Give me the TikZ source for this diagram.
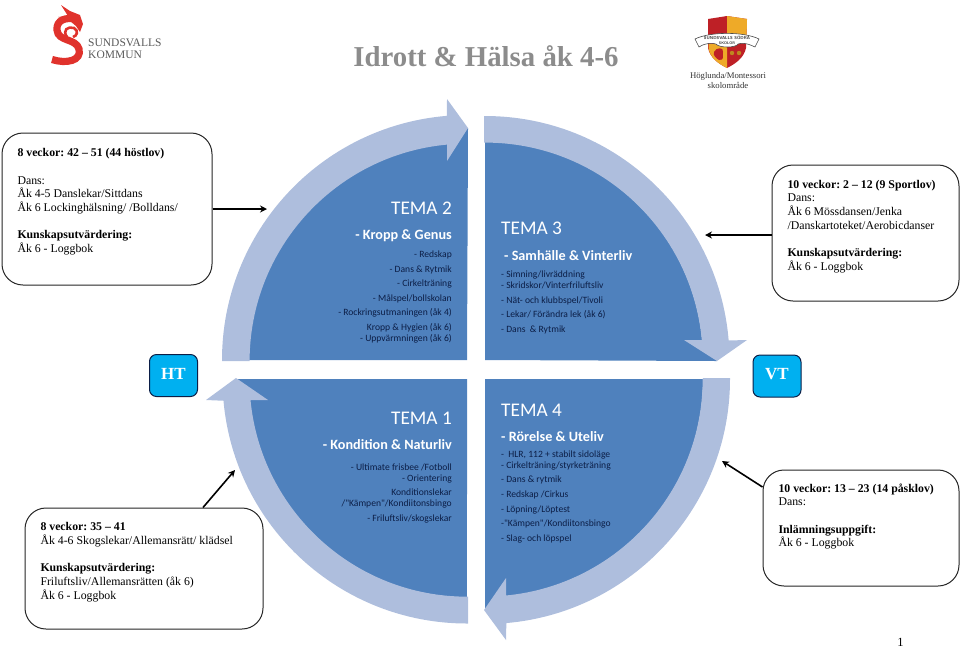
\documentclass[tikz,border=0pt]{standalone}
\usepackage{fontspec}
\setmainfont{Liberation Serif}
\newfontfamily\carl{Carlito}
\usetikzlibrary{arrows.meta}
\frenchspacing
\definecolor{quad}{RGB}{79,129,189}
\definecolor{ring}{RGB}{174,190,221}
\definecolor{sky}{RGB}{0,176,240}
\definecolor{navy}{RGB}{12,30,70}
\definecolor{titlegray}{RGB}{140,140,140}
\definecolor{logored}{RGB}{224,50,44}
\definecolor{shieldred}{RGB}{190,32,38}
\definecolor{shieldgold}{RGB}{238,170,40}
\tikzset{
  infobox/.style={draw=black!85,line width=1pt,rounded corners=21pt,fill=white,inner ysep=0pt,inner xsep=15.5pt,anchor=center},
  season/.style={draw=navy,line width=1pt,rounded corners=7pt,fill=sky,text=white,font=\fontsize{17}{20}\selectfont\bfseries,minimum width=48pt,minimum height=42pt,inner sep=0pt},
  pointer/.style={line width=1.6pt,black,-{Stealth[length=7pt,width=7pt]}},
  quadrant/.style={fill=quad,draw=none},
  ringarrow/.style={fill=ring,draw=none},
  tematitle/.style={text=white,font=\carl\fontsize{19.3}{22}\selectfont,inner sep=0pt},
  temasub/.style={text=white,font=\carl\bfseries\fontsize{14.2}{16}\selectfont,inner sep=0pt},
  temalist/.style={text=navy,font=\carl\fontsize{9.6}{10.7}\selectfont,inner sep=0pt},
}
\newcommand{\boxtxt}[4]{\parbox[c][#1pt][t]{#2pt}{\raggedright\vspace{#3pt}\fontsize{11.8}{13.7}\selectfont #4}}
\begin{document}
\begin{tikzpicture}[x=1pt,y=-1pt]
\useasboundingbox (0,0) rectangle (960,649);

% quadrants
\fill[quadrant] (467,360) -- (249,360) arc (180:264.7:218) -- (468,128) -- cycle;
\fill[quadrant] (485,360) -- (485,142) arc (270:354.7:218) -- (717,361) -- cycle;
\fill[quadrant] (467,379) -- (237,379) -- (250,400) arc (174.5:90:218) -- cycle;
\fill[quadrant] (485,379) -- (703,379) arc (0:84.5:218) -- (485,610) -- cycle;

% ring arrows
\fill[ringarrow] (222,361) -- (222,360) arc (180:265.3:245) -- (447,99) -- (468,128) -- (447,161) -- (447,144.6) arc (264.7:180:217.5) -- (249,361) -- cycle;
\fill[ringarrow] (484,116) -- (485,116) arc (270:355.3:244.5) -- (747,340) -- (717,361) -- (684,340) -- (701.8,340) arc (354.7:270:217.5) -- (484,142.5) -- cycle;
\fill[ringarrow] (468,623.5) -- (467,623.5) arc (90:174.9:244.5) -- (206,400) -- (236,378) -- (268,400) -- (250.5,400) arc (174.5:90:217.5) -- (468,596.5) -- cycle;
\fill[ringarrow] (730,378) -- (730,379) arc (0:85:245) -- (506,640) -- (484,610) -- (506,578) -- (506,595.5) arc (84.5:0:217.5) -- (703,378) -- cycle;

% quadrant texts
\node[tematitle,anchor=east] (t2) at (452,208.5) {TEMA 2};
\node[temasub,anchor=east] (s2) at (452,236) {- Kropp \& Genus};
\node[temalist,anchor=north east,align=right] (l2) at (452,250.7) {- Redskap\\[3.9pt]- Dans \& Rytmik\\[3.9pt]- Cirkelträning\\[3.9pt]- Målspel/bollskolan\\[3.9pt]- Rockringsutmaningen (åk 4)\\[3.9pt]Kropp \& Hygien (åk 6)\\- Uppvärmningen (åk 6)};

\node[tematitle,anchor=west] (t3) at (501,228.5) {TEMA 3};
\node[temasub,anchor=west] (s3) at (504,256) {- Samhälle \& Vinterliv};
\node[temalist,anchor=north west,align=left] (l3) at (501,271) {- Simning/livräddning\\- Skridskor/Vinterfriluftsliv\\[3.9pt]- Nät- och klubbspel/Tivoli\\[3.9pt]- Lekar/ Förändra lek (åk 6)\\[3.9pt]- Dans \ \& Rytmik};

\node[tematitle,anchor=east] (t1) at (452,418.5) {TEMA 1};
\node[temasub,anchor=east] (s1) at (452,445) {- Kondition \& Naturliv};
\node[temalist,anchor=north east,align=right] (l1) at (452,463.7) {- Ultimate frisbee /Fotboll\\- Orientering\\[3.9pt]Konditionslekar\\/"Kämpen"/Kondiitonsbingo\\[3.9pt]- Friluftsliv/skogslekar};

\node[tematitle,anchor=west] (t4) at (501,410.5) {TEMA 4};
\node[temasub,anchor=west] (s4) at (501,437) {- Rörelse \& Uteliv};
\node[temalist,anchor=north west,align=left] (l4) at (501,450.7) {- \ HLR, 112 + stabilt sidoläge\\- Cirkelträning/styrketräning\\[3.9pt]- Dans \& rytmik\\[3.9pt]- Redskap /Cirkus\\[3.9pt]- Löpning/Löptest\\[3.9pt]-"Kämpen"/Kondiitonsbingo\\[3.9pt]- Slag- och löpspel};

% season tags
\node[season] (ht) at (173.5,375.5) {\raisebox{3.5pt}{HT}};
\node[season] (vt) at (777,376) {\raisebox{3.5pt}{VT}};

% info boxes
\node[infobox] (boxa) at (107,209) {\boxtxt{152}{179}{15.5}{\textbf{8 veckor: 42 – 51 (44 höstlov)}\\[13.7pt]Dans:\\Åk 4-5 Danslekar/Sittdans\\Åk 6 Lockinghälsning/ /Bolldans/\\[13.7pt]\textbf{Kunskapsutvärdering:}\\Åk 6 - Loggbok}};
\node[infobox] (boxb) at (865.5,233) {\boxtxt{136}{156}{15}{\textbf{10 veckor: 2 – 12 (9 Sportlov)}\\Dans:\\Åk 6 Mössdansen/Jenka\\/Danskartoteket/Aerobicdanser\\[13.7pt]\textbf{Kunskapsutvärdering:}\\Åk 6 - Loggbok}};
\node[infobox] (boxc) at (144,568.5) {\boxtxt{121}{207}{14.5}{\textbf{8 veckor: 35 – 41}\\Åk 4-6 Skogslekar/Allemansrätt/ klädsel\\[13.7pt]\textbf{Kunskapsutvärdering:}\\Friluftsliv/Allemansrätten (åk 6)\\Åk 6 - Loggbok}};
\node[infobox] (boxd) at (861,528) {\boxtxt{116}{165}{13.5}{\textbf{10 veckor: 13 – 23 (14 påsklov)}\\Dans:\\[13.7pt]\textbf{Inlämningsuppgift:}\\Åk 6 - Loggbok}};

% connectors
\coordinate (enda) at (267,209);
\coordinate (endb) at (705,235);
\coordinate (endc) at (235,470);
\coordinate (endd) at (722,461);
\draw[pointer] (boxa.east) -- (enda);
\draw[pointer] ([yshift=-2pt]boxb.west) -- (endb);
\draw[pointer] ([xshift=59pt]boxc.north) -- (endc);
\draw[pointer] ([yshift=41pt]boxd.west) -- (endd);

% title and page number
\node[text=titlegray,font=\fontsize{28.8}{30}\selectfont\bfseries,inner sep=0pt] (title) at (486,56) {Idrott \& Hälsa åk 4-6};
\node[font=\fontsize{12.5}{14}\selectfont,inner sep=0pt] (page) at (900.5,642) {1};

% Sundsvall logo
\draw[logored,line width=7.2pt,line cap=butt] (52,59.5) .. controls (66,64) and (82,61) .. (79,49) .. controls (76,38) and (58,42) .. (57,30) .. controls (56,20) and (66,17) .. (76,19);
\draw[logored,line width=2.6pt] (67,37) .. controls (62,30) and (68,26) .. (74,28) .. controls (79,31) and (77,36) .. (73,37);
\fill[logored] (61,5) -- (70,11) -- (80,15) -- (83,24) -- (80,32) -- (76,26) -- (70,21) -- (58,17) -- (68,16) -- cycle;
\node[anchor=west,text=black!65,font=\fontsize{11.5}{12}\selectfont,inner sep=0pt] (logoa) at (88,42.5) {SUNDSVALLS};
\node[anchor=west,text=black!65,font=\fontsize{11.5}{12}\selectfont,inner sep=0pt] (logob) at (88,55) {KOMMUN};

% school crest
\fill[shieldred] (708,19) -- (727,16) -- (747,19) -- (746,48) .. controls (744,58) and (735,64) .. (727,68) .. controls (719,64) and (710,58) .. (708,48) -- cycle;
\fill[shieldgold] (727,16) -- (747,19) -- (746.5,38) -- (727,38) -- cycle;
\fill[shieldgold] (708.5,44) -- (727,44) -- (727,68) .. controls (719,64) and (710,58) .. (708.5,48) -- cycle;
\fill[shieldred] (714,52) .. controls (716,47) and (724,47) .. (723,52) .. controls (722,57) and (725,60) .. (719,60) .. controls (716,58) and (713,56) .. (714,52) -- cycle;
\fill[shieldgold!80!black] (732,53) circle (2.2);
\fill[shieldgold!80!black] (739,53) circle (2.2);
\fill[white,draw=black!70,line width=.6pt] (695,39) .. controls (710,31.5) and (744,31.5) .. (759,39) -- (755,47) .. controls (746,42.5) and (741,43) .. (738,44) .. controls (736,48) and (719,48) .. (716,44) .. controls (712,43) and (706,42.5) .. (699,47) -- cycle;
\node[font=\fontsize{4.3}{4.6}\selectfont\bfseries\sffamily,text=black!80,inner sep=0pt] (crestname) at (727,38) {SUNDSVALLS SÖDRA};
\node[font=\fontsize{3.8}{4}\selectfont\bfseries\sffamily,text=black!80,inner sep=0pt] (crestsub) at (727,43.3) {SKOLOR};
\node[font=\fontsize{8.7}{10}\selectfont,text=black!80,align=center,inner sep=0pt] (crestcap) at (728,81) {Höglunda/Montessori\\skolområde};
\end{tikzpicture}
\end{document}
